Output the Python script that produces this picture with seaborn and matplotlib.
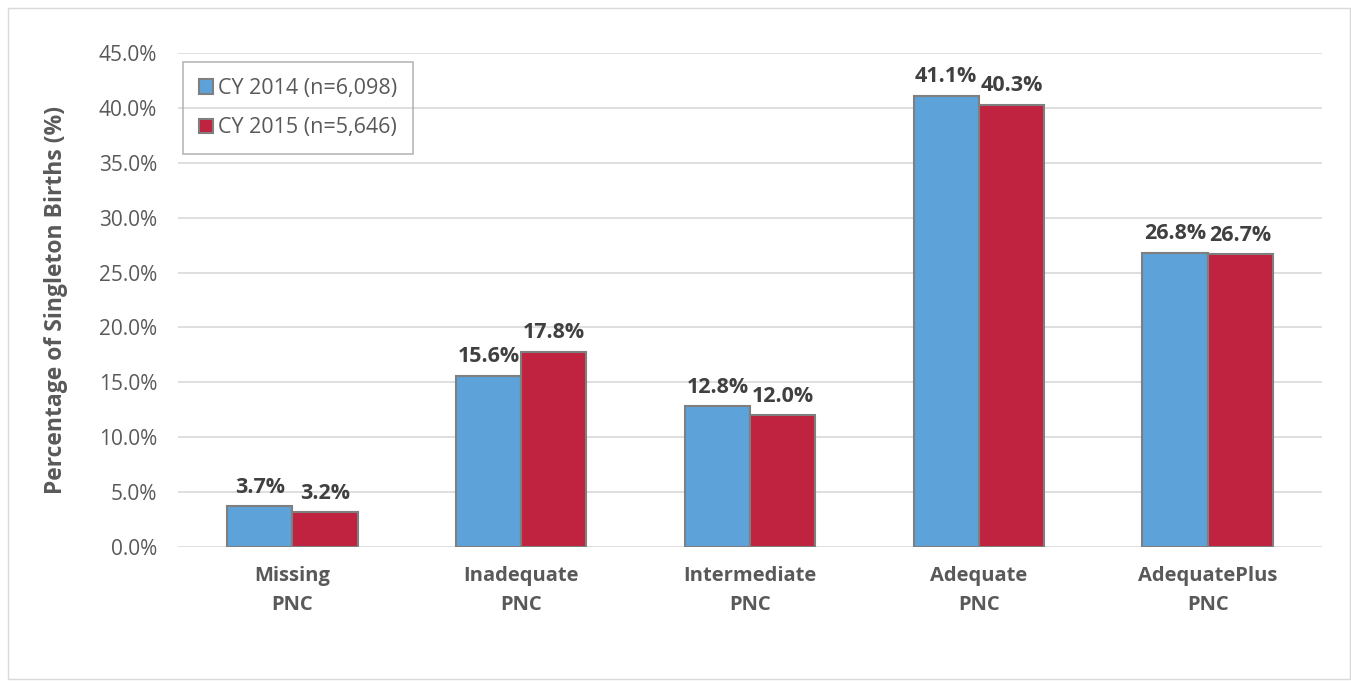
import matplotlib
matplotlib.use("Agg")
import matplotlib.pyplot as plt
import seaborn as sns
import pandas as pd
from matplotlib.patches import Rectangle
from matplotlib.ticker import FuncFormatter

categories = ["Missing\nPNC", "Inadequate\nPNC", "Intermediate\nPNC", "Adequate\nPNC", "AdequatePlus\nPNC"]
series_names = ["CY 2014 (n=6,098)", "CY 2015 (n=5,646)"]
values_2014 = [3.7, 15.6, 12.8, 41.1, 26.8]
values_2015 = [3.2, 17.8, 12.0, 40.3, 26.7]
colors = ["#5DA2D8", "#C0233F"]

df = pd.DataFrame({
    "category": categories * 2,
    "series": [series_names[0]] * 5 + [series_names[1]] * 5,
    "value": values_2014 + values_2015,
})

sns.set_theme(style="white")
plt.rcParams["font.family"] = ["Open Sans", "DejaVu Sans"]
text_color = "#595959"

fig = plt.figure(figsize=(13.51, 6.81), dpi=100)
ax = fig.add_axes([0.1318, 0.1968, 0.8467, 0.7254])

sns.barplot(data=df, x="category", y="value", hue="series", order=categories,
            hue_order=series_names, palette=colors, width=0.57, ax=ax,
            edgecolor="#7F7F7F", linewidth=1.5, saturation=1, errorbar=None)

ax.set_ylim(0, 45)
ax.set_xlim(-0.5, 4.5)
ax.set_yticks([i * 5 for i in range(10)])
ax.yaxis.set_major_formatter(FuncFormatter(lambda v, p: f"{v:.1f}%"))
ax.grid(axis="y", color="#D9D9D9", linewidth=1.2)
ax.set_axisbelow(True)
for s in ax.spines.values():
    s.set_visible(False)
ax.tick_params(axis="y", labelsize=15, colors=text_color, length=0, pad=15)
ax.tick_params(axis="x", labelsize=14.5, colors=text_color, length=0, pad=14)
for lbl in ax.get_xticklabels():
    lbl.set_fontweight("bold")
    lbl.set_linespacing(1.6)
ax.set_xlabel("")
ax.set_ylabel("Percentage of Singleton Births (%)", fontsize=16.5, fontweight="bold",
              color=text_color, labelpad=22)

for container in ax.containers:
    ax.bar_label(container, labels=[f"{v.get_height():.1f}%" for v in container],
                 fontsize=15.5, fontweight="bold", color="#404040", padding=6)

leg = ax.legend(loc="upper left", bbox_to_anchor=(0.004, 0.982), borderaxespad=0,
                fontsize=15.5, frameon=True, fancybox=False, edgecolor="#A6A6A6",
                handlelength=0.65, handleheight=0.65, handletextpad=0.25,
                labelspacing=0.85, borderpad=0.75)
frame = leg.get_frame()
frame.set_linewidth(1.2)
frame.set_facecolor("none")
frame.set_edgecolor("#A6A6A6")
for t in leg.get_texts():
    t.set_color(text_color)

fig.patches.append(Rectangle((0.006, 0.003), 0.993, 0.985, transform=fig.transFigure,
                             fill=False, edgecolor="#D9D9D9", linewidth=1))

fig.savefig("out.png", dpi=100)
